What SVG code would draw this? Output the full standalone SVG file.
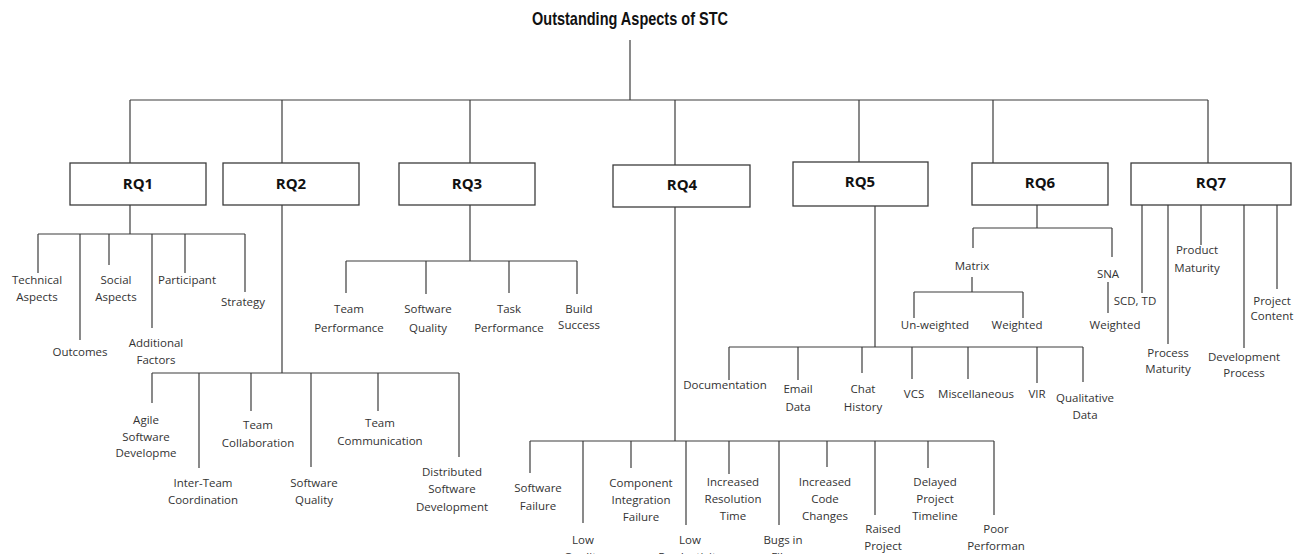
<svg xmlns="http://www.w3.org/2000/svg" width="1302" height="554" viewBox="0 0 1302 554">
<style>
.bg{fill:#fff}
.ln{stroke:#3c3c3c;stroke-width:1.2;fill:none}
.box{fill:#fff;stroke:#3c3c3c;stroke-width:1.3}
.t{font-family:"Open Sans","Liberation Sans",sans-serif;font-size:11.5px;fill:#333;text-anchor:middle}
.b{font-family:"Open Sans","Liberation Sans",sans-serif;font-size:15px;font-weight:bold;fill:#111;text-anchor:middle}
.title{font-family:"Liberation Sans",sans-serif;font-size:19px;font-weight:bold;fill:#111;text-anchor:middle}
</style>
<rect class="bg" x="0" y="0" width="1302" height="554"/>
<g id="connectors">
<path class="ln" d="M630 40V100M130 100H1208M130 100V163M282 100V163M470 100V163M675 100V165M859 100V162M993 100V163M1208 100V163"/>
<!-- RQ1 -->
<path class="ln" d="M130 205V234M38 234H245M38 234V273M80 234V340M109 234V265M152 234V328M185 234V273M245 234V292"/>
<!-- RQ2 -->
<path class="ln" d="M282 205V373M152 373H459M152 373V403M199 373V468M251 373V411M311 373V467M378 373V411M459 373V457"/>
<!-- RQ3 -->
<path class="ln" d="M470 205V261M346 261H577M346 261V293M426 261V294M509 261V293M577 261V294"/>
<!-- RQ4 -->
<path class="ln" d="M675 207V441M530 441H994M530 441V473M583 441V523M631 441V468M686 441V525M729 441V474M779 441V525M827 441V467M875 441V515M928 441V468M994 441V515"/>
<!-- RQ5 -->
<path class="ln" d="M875 206V347M729 347H1083M729 347V380M798 347V380M862 347V373M912 347V379M968 347V379M1037 347V383M1083 347V382"/>
<!-- RQ6 -->
<path class="ln" d="M1037 205V228M973 228H1112M973 228V248M1112 228V257M972 277V292M914 292H1023M914 292V318M1023 292V318M1108 282V313"/>
<!-- RQ7 -->
<path class="ln" d="M1142 205V293M1168 205V344M1201 205V245M1244 205V348M1277 205V289"/>
</g>
<g id="title"><text class="title" x="630" y="25" textLength="196" lengthAdjust="spacingAndGlyphs">Outstanding Aspects of STC</text></g>
<g id="rq1"><rect class="box" x="70" y="163" width="136" height="42"/><text class="b" x="138" y="189">RQ1</text></g>
<g id="rq2"><rect class="box" x="223" y="163" width="136" height="42"/><text class="b" x="291" y="189">RQ2</text></g>
<g id="rq3"><rect class="box" x="399" y="163" width="136" height="42"/><text class="b" x="467" y="189">RQ3</text></g>
<g id="rq4"><rect class="box" x="613" y="165" width="137" height="42"/><text class="b" x="682" y="190">RQ4</text></g>
<g id="rq5"><rect class="box" x="793" y="162" width="135" height="44"/><text class="b" x="860" y="187">RQ5</text></g>
<g id="rq6"><rect class="box" x="972" y="163" width="136" height="42"/><text class="b" x="1040" y="188">RQ6</text></g>
<g id="rq7"><rect class="box" x="1131" y="163" width="160" height="42"/><text class="b" x="1211" y="188">RQ7</text></g>
<!-- RQ1 children -->
<g id="n-technical"><text class="t" x="37" y="284">Technical<tspan x="37" dy="17">Aspects</tspan></text></g>
<g id="n-outcomes"><text class="t" x="80" y="356">Outcomes</text></g>
<g id="n-social"><text class="t" x="116" y="284">Social<tspan x="116" dy="17">Aspects</tspan></text></g>
<g id="n-additional"><text class="t" x="156" y="347">Additional<tspan x="156" dy="17">Factors</tspan></text></g>
<g id="n-participant"><text class="t" x="187" y="284">Participant</text></g>
<g id="n-strategy"><text class="t" x="243" y="306">Strategy</text></g>
<!-- RQ2 children -->
<g id="n-agile"><text class="t" x="146" y="424">Agile<tspan x="146" dy="16.5">Software</tspan><tspan x="146" dy="16.5">Developme</tspan></text></g>
<g id="n-interteam"><text class="t" x="203" y="487">Inter-Team<tspan x="203" dy="17">Coordination</tspan></text></g>
<g id="n-collab"><text class="t" x="258" y="429">Team<tspan x="258" dy="18">Collaboration</tspan></text></g>
<g id="n-swq2"><text class="t" x="314" y="487">Software<tspan x="314" dy="17">Quality</tspan></text></g>
<g id="n-comm"><text class="t" x="380" y="427">Team<tspan x="380" dy="18">Communication</tspan></text></g>
<g id="n-distributed"><text class="t" x="452" y="476">Distributed<tspan x="452" dy="17">Software</tspan><tspan x="452" dy="18">Development</tspan></text></g>
<!-- RQ3 children -->
<g id="n-teamperf"><text class="t" x="349" y="313">Team<tspan x="349" dy="19">Performance</tspan></text></g>
<g id="n-swq3"><text class="t" x="428" y="313">Software<tspan x="428" dy="19">Quality</tspan></text></g>
<g id="n-taskperf"><text class="t" x="509" y="313">Task<tspan x="509" dy="19">Performance</tspan></text></g>
<g id="n-build"><text class="t" x="579" y="313">Build<tspan x="579" dy="16">Success</tspan></text></g>
<!-- RQ4 children -->
<g id="n-swfail"><text class="t" x="538" y="492">Software<tspan x="538" dy="18">Failure</tspan></text></g>
<g id="n-lowq"><text class="t" x="583" y="544">Low<tspan x="583" dy="17">Quality</tspan></text></g>
<g id="n-component"><text class="t" x="641" y="487">Component<tspan x="641" dy="17">Integration</tspan><tspan x="641" dy="17">Failure</tspan></text></g>
<g id="n-lowp"><text class="t" x="690" y="544">Low<tspan x="690" dy="17">Productivity</tspan></text></g>
<g id="n-resolution"><text class="t" x="733" y="486">Increased<tspan x="733" dy="17">Resolution</tspan><tspan x="733" dy="17">Time</tspan></text></g>
<g id="n-bugs"><text class="t" x="783" y="544">Bugs in<tspan x="783" dy="17">Files</tspan></text></g>
<g id="n-codechg"><text class="t" x="825" y="486">Increased<tspan x="825" dy="17">Code</tspan><tspan x="825" dy="17">Changes</tspan></text></g>
<g id="n-raised"><text class="t" x="883" y="533">Raised<tspan x="883" dy="17">Project</tspan></text></g>
<g id="n-delayed"><text class="t" x="935" y="486">Delayed<tspan x="935" dy="17">Project</tspan><tspan x="935" dy="17">Timeline</tspan></text></g>
<g id="n-poor"><text class="t" x="996" y="533">Poor<tspan x="996" dy="17">Performan</tspan></text></g>
<!-- RQ5 children -->
<g id="n-doc"><text class="t" x="725" y="389">Documentation</text></g>
<g id="n-email"><text class="t" x="798" y="393">Email<tspan x="798" dy="18">Data</tspan></text></g>
<g id="n-chat"><text class="t" x="863" y="393">Chat<tspan x="863" dy="18">History</tspan></text></g>
<g id="n-vcs"><text class="t" x="914" y="398">VCS</text></g>
<g id="n-misc"><text class="t" x="976" y="398">Miscellaneous</text></g>
<g id="n-vir"><text class="t" x="1037" y="398">VIR</text></g>
<g id="n-qual"><text class="t" x="1085" y="402">Qualitative<tspan x="1085" dy="17">Data</tspan></text></g>
<!-- RQ6 children -->
<g id="n-matrix"><text class="t" x="972" y="270">Matrix</text></g>
<g id="n-sna"><text class="t" x="1108" y="278">SNA</text></g>
<g id="n-unweighted"><text class="t" x="935" y="329">Un-weighted</text></g>
<g id="n-weighted1"><text class="t" x="1017" y="329">Weighted</text></g>
<g id="n-weighted2"><text class="t" x="1115" y="329">Weighted</text></g>
<!-- RQ7 children -->
<g id="n-scd"><text class="t" x="1135" y="305">SCD, TD</text></g>
<g id="n-procmat"><text class="t" x="1168" y="357">Process<tspan x="1168" dy="16">Maturity</tspan></text></g>
<g id="n-prodmat"><text class="t" x="1197" y="254">Product<tspan x="1197" dy="18">Maturity</tspan></text></g>
<g id="n-devproc"><text class="t" x="1244" y="361">Development<tspan x="1244" dy="16">Process</tspan></text></g>
<g id="n-content"><text class="t" x="1272" y="305">Project<tspan x="1272" dy="15">Content</tspan></text></g>
</svg>
